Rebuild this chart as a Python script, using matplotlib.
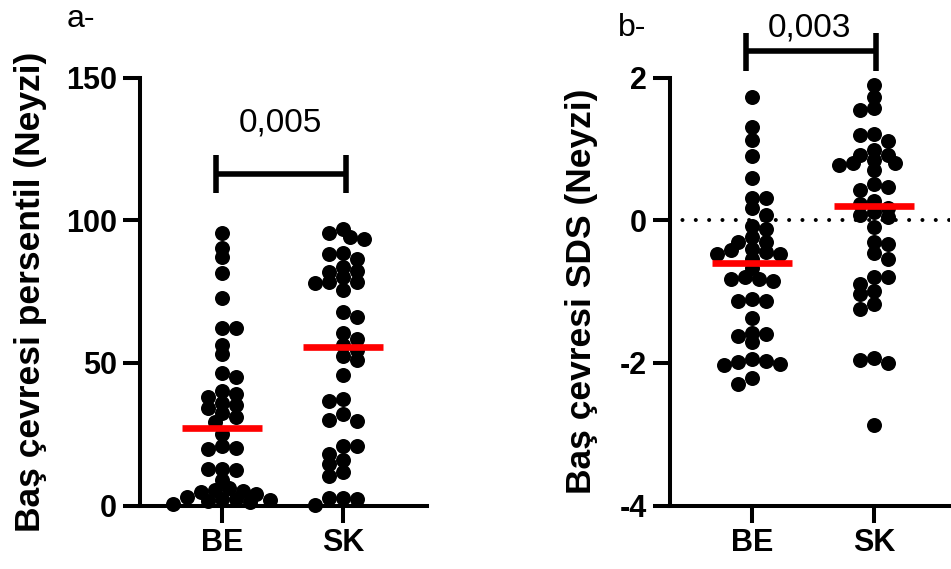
import numpy as np
import matplotlib
matplotlib.use("Agg")
import matplotlib.pyplot as plt

plt.rcParams['font.family'] = ['Liberation Sans', 'DejaVu Sans']
plt.rcParams['axes.unicode_minus'] = False

# ---------------- data ----------------
groups = ['BE', 'SK']

a_be = [95.4, 90.2, 87.0, 81.6, 72.6, 62.1, 62.1, 56.2, 53.0, 46.5, 45.0, 40.1,
        39.2, 38.0, 35.8, 35.1, 34.0, 32.4, 31.0, 29.3,
        24.9, 20.7, 20.3, 19.9, 12.9, 12.6, 12.9,
        8.8, 6.0, 5.5, 5.0, 4.6, 4.0, 3.0, 2.4, 2.2, 2.0, 1.6, 1.2, 0.6]
a_sk = [96.8, 95.4, 94.0, 93.4, 88.6, 88.2, 86.3, 83.5, 82.3, 81.7, 80.2, 78.4,
        78.4, 77.9, 75.5, 67.7, 65.9, 60.3, 58.5, 56.4, 54.4, 52.4, 50.9, 45.7,
        37.5, 36.6, 32.0, 29.9, 29.6, 20.8, 20.8, 18.2, 15.8, 14.6, 11.7, 10.3,
        2.6, 2.6, 2.4, 0.35]
b_be = [1.72, 1.30, 1.13, 0.90, 0.59, 0.31, 0.31, 0.17, 0.07, -0.08, -0.13,
        -0.24, -0.31, -0.31, -0.47, -0.45, -0.48, -0.41, -0.42, -0.54, -0.67,
        -0.85, -0.82, -0.79, -0.83, -1.14, -1.13, -1.11, -1.37, -1.59, -1.58,
        -1.63, -1.71, -1.98, -1.94, -2.03, -2.01, -1.99, -2.21, -2.29]
b_sk = [1.89, 1.72, 1.54, 1.57, 1.21, 1.20, 1.11, 0.98, 0.92, 0.92, 0.80, 0.80,
        0.85, 0.77, 0.70, 0.51, 0.46, 0.42, 0.27, 0.22, 0.17, 0.07, 0.12, 0.04,
        -0.10, -0.33, -0.31, -0.54, -0.46, -0.89, -0.80, -0.80, -0.99, -1.04,
        -1.17, -1.25, -1.96, -2.00, -1.93, -2.87]

p_a = '0,005'
p_b = '0,003'
ylabel_a = 'Baş çevresi persentil (Neyzi)'
ylabel_b = 'Baş çevresi SDS (Neyzi)'
yticks_a = [0, 50, 100, 150]
yticks_b = [-4, -2, 0, 2]

# ---------------- layout ----------------
W, H, DPI = 951, 569, 100
fig = plt.figure(figsize=(W / DPI, H / DPI), dpi=DPI)
fig.patch.set_facecolor('white')

AX_BOT, AX_TOP = 505.5, 77.5


def rect(l, r):
    return [l / W, 1 - AX_BOT / H, (r - l) / W, (AX_BOT - AX_TOP) / H]


axa = fig.add_axes(rect(140, 426.7))
axb = fig.add_axes(rect(670, 950))

XLIM_A = (-0.672, 1.686)
XLIM_B = (-0.672, 1.623)
YLIM_A = (0, 150)
YLIM_B = (-4, 2)

DOT_PX = 15.0
SX = 13.9   # horizontal spacing between neighbours (px)
SY = 9.0    # allowed vertical overlap distance (px)


def swarm(values, ypx_unit, xpx_unit):
    """GraphPad-like scatter: lattice columns, elliptical collision test."""
    v = np.asarray(values, float)
    ypx = v * ypx_unit
    order = np.argsort(-v, kind='stable')
    k = np.arange(1, 40)
    lattice = np.concatenate([[0.0], np.column_stack([k, -k]).ravel()]) * SX / 2
    xs = np.zeros(len(v))
    placed = []
    for n, i in enumerate(order):
        cands = lattice if n % 2 == 0 else -lattice
        if placed:
            P = np.array(placed)
            dx = (cands[:, None] - P[None, :, 0]) / SX
            dy = (ypx[i] - P[None, :, 1]) / SY
            ok = (dx ** 2 + dy ** 2 >= 0.999).all(axis=1)
            c = cands[np.argmax(ok)]
        else:
            c = 0.0
        xs[i] = c
        placed.append((c, ypx[i]))
    return xs / xpx_unit


def style_axes(ax, xlim, ylim, yticks):
    ax.set_xlim(*xlim)
    ax.set_ylim(*ylim)
    ax.set_xticks([0, 1])
    ax.set_xticklabels(groups)
    ax.set_yticks(yticks)
    ax.set_yticklabels([str(t) for t in yticks])
    for s in ['top', 'right']:
        ax.spines[s].set_visible(False)
    for s in ['left', 'bottom']:
        ax.spines[s].set_linewidth(2.9)
    ax.tick_params(axis='both', width=2.9, length=12.5, labelsize=22, colors='black')
    ax.tick_params(axis='y', pad=4.3)
    ax.tick_params(axis='x', pad=3.7)
    for lab in ax.get_xticklabels() + ax.get_yticklabels():
        lab.set_fontweight('bold')
    ax.set_facecolor('none')


def draw_panel(ax, data, xlim, ylim):
    ax_w_px = ax.get_position().width * W
    ax_h_px = ax.get_position().height * H
    xu = ax_w_px / (xlim[1] - xlim[0])
    yu = ax_h_px / (ylim[1] - ylim[0])
    s = (DOT_PX * 72 / DPI) ** 2
    for i, vals in enumerate(data):
        off = swarm(vals, yu, xu)
        ax.scatter(i + off, vals, s=s, color='black', linewidths=0,
                   clip_on=False, zorder=3)
        med = np.median(vals)
        ax.plot([i - 0.33, i + 0.33], [med, med], color='#ff0000', lw=4.8,
                solid_capstyle='butt', zorder=4, clip_on=False)


def bracket(ax, yh, ylo, yhi, x0=-0.05, x1=1.02):
    kw = dict(color='black', lw=4, solid_capstyle='butt', clip_on=False, zorder=5)
    ax.plot([x0, x1], [yh, yh], **kw)
    ax.plot([x0, x0], [ylo, yhi], **kw)
    ax.plot([x1, x1], [ylo, yhi], **kw)


# Panel a
style_axes(axa, XLIM_A, YLIM_A, yticks_a)
draw_panel(axa, [a_be, a_sk], XLIM_A, YLIM_A)
bracket(axa, 116.3, 109.4, 122.8)
axa.text(0.486, 131.0, p_a, ha='center', va='baseline', fontsize=24, clip_on=False)

# Panel b
style_axes(axb, XLIM_B, YLIM_B, yticks_b)
axb.axhline(0, color='black', lw=2.9, linestyle=(0.22, (0.01, 3.30)),
            dash_capstyle='round', zorder=1)
draw_panel(axb, [b_be, b_sk], XLIM_B, YLIM_B)
bracket(axb, 2.37, 2.09, 2.63)
axb.text(0.467, 2.57, p_b, ha='center', va='baseline', fontsize=24, clip_on=False)

# Labels
fig.text(31 / W, 1 - 291.5 / H, ylabel_a, rotation=90, ha='center', va='center',
         fontsize=25.5, fontweight='bold')
fig.text(582 / W, 1 - 291.5 / H, ylabel_b, rotation=90, ha='center', va='center',
         fontsize=25.5, fontweight='bold')
fig.text(66.7 / W, 1 - 27.3 / H, 'a-', ha='left', va='baseline', fontsize=23)
fig.text(618.3 / W, 1 - 36.3 / H, 'b-', ha='left', va='baseline', fontsize=23)

fig.savefig('out.png', dpi=DPI, facecolor='white')
